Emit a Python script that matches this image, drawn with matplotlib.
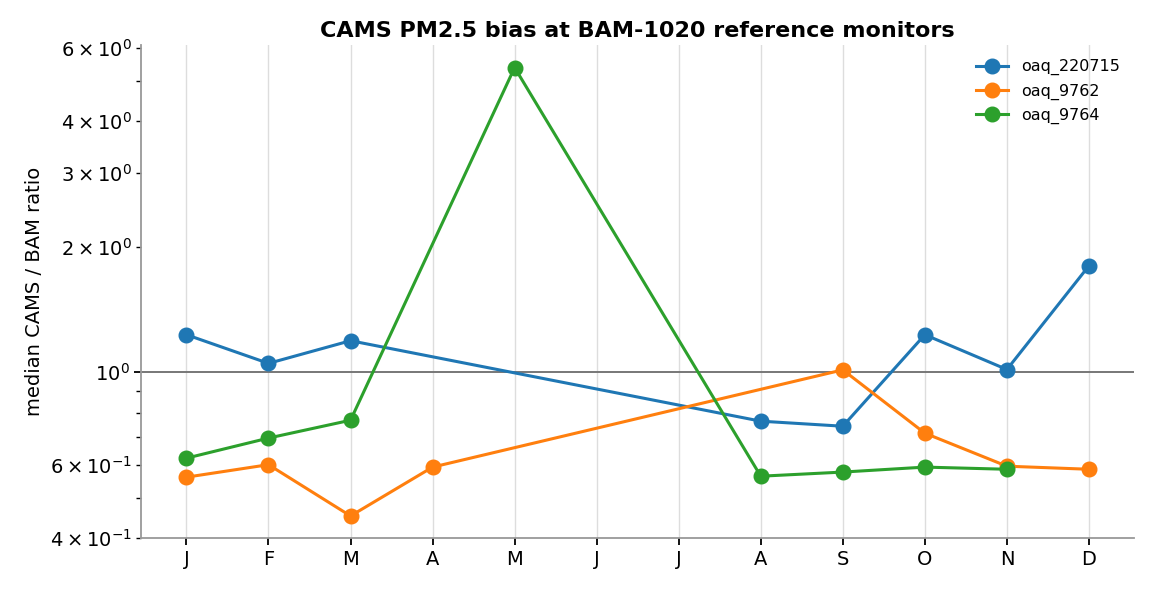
import numpy as np
import matplotlib
matplotlib.use("Agg")
import matplotlib.pyplot as plt
from matplotlib.ticker import LogFormatterSciNotation

months = ["J", "F", "M", "A", "M", "J", "J", "A", "S", "O", "N", "D"]
nan = np.nan
# median CAMS / BAM ratio per month (NaN = no data)
oaq_220715 = [1.23, 1.05, 1.19, nan, nan, nan, nan, 0.763, 0.742, 1.23, 1.015, 1.80]
oaq_9762 = [0.56, 0.60, 0.452, 0.592, nan, nan, nan, nan, 1.013, 0.714, 0.595, 0.585]
oaq_9764 = [0.622, 0.695, 0.767, nan, 5.38, nan, nan, 0.563, 0.576, 0.592, 0.585, nan]

series = {"oaq_220715": oaq_220715, "oaq_9762": oaq_9762, "oaq_9764": oaq_9764}
colors = ["#1f77b4", "#ff7f0e", "#2ca02c"]

fig, ax = plt.subplots(figsize=(11.49, 5.9), dpi=100)
x = np.arange(12)
for (name, vals), c in zip(series.items(), colors):
    v = np.array(vals, dtype=float)
    m = ~np.isnan(v)
    ax.plot(x[m], v[m], marker="o", markersize=10.5, linewidth=2.2, color=c, label=name)

ax.axhline(1.0, color="#777777", linewidth=1.4, zorder=1)
ax.set_yscale("log")
ax.set_ylim(0.4, 6.1)
ax.set_xlim(-0.55, 11.55)
ax.yaxis.set_major_formatter(LogFormatterSciNotation(minor_thresholds=(2, 0.4)))
ax.yaxis.set_minor_formatter(LogFormatterSciNotation(labelOnlyBase=False, minor_thresholds=(2, 0.4)))
ax.set_xticks(x)
ax.set_xticklabels(months, fontsize=14)
ax.tick_params(axis="y", which="both", labelsize=14)
ax.tick_params(axis="both", which="major", length=5, width=1.3)
ax.tick_params(axis="y", which="minor", length=3.5, width=1)
ax.grid(axis="x", color="#dddddd", linewidth=1)
ax.set_axisbelow(True)
for s in ["top", "right"]:
    ax.spines[s].set_visible(False)
for s in ["left", "bottom"]:
    ax.spines[s].set_color("#999999")
    ax.spines[s].set_linewidth(1.3)
ax.set_ylabel("median CAMS / BAM ratio", fontsize=14)
ax.set_title("CAMS PM2.5 bias at BAM-1020 reference monitors", fontsize=16, fontweight="bold")
ax.legend(frameon=False, loc="upper right", fontsize=11.5)

fig.subplots_adjust(left=0.123, right=0.987, top=0.924, bottom=0.088)
fig.savefig("out.png", dpi=100)
